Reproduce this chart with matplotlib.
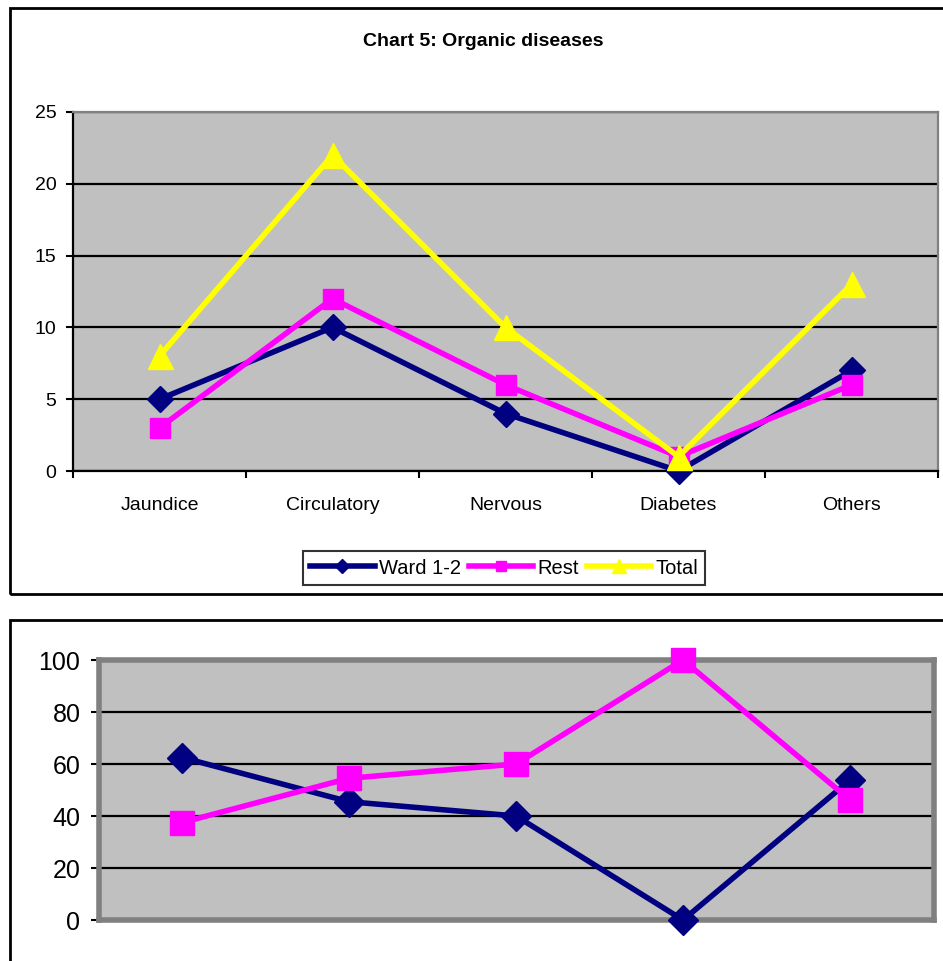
import matplotlib
matplotlib.use('Agg')
import matplotlib.pyplot as plt
from matplotlib.patches import Rectangle
import numpy as np

plt.rcParams['font.family'] = ['Liberation Sans', 'DejaVu Sans']

categories = ['Jaundice', 'Circulatory', 'Nervous', 'Diabetes', 'Others']
ward = [5, 10, 4, 0, 7]
rest = [3, 12, 6, 1, 6]
total = [8, 22, 10, 1, 13]

# share of each group in percent
ward_pct = [62.5, 45.5, 40, 0, 53.8]
rest_pct = [37.5, 54.5, 60, 100, 46.2]

NAVY = '#000080'
MAGENTA = '#FF00FF'
YELLOW = '#FFFF00'
GRAY = '#C0C0C0'

fig = plt.figure(figsize=(9.43, 9.61), dpi=100)

# outer chart frames
fig.patches.append(Rectangle((10 / 943, 1 - 594 / 961), 940 / 943, 586 / 961,
                             transform=fig.transFigure, fill=False,
                             edgecolor='black', linewidth=2))
fig.patches.append(Rectangle((10 / 943, -0.05), 940 / 943, 1 - 620 / 961 + 0.05,
                             transform=fig.transFigure, fill=False,
                             edgecolor='black', linewidth=2))

x = np.arange(len(categories))

# --- top chart ---
ax = fig.add_axes([73 / 943, 1 - 471 / 961, 865 / 943, 359 / 961])
ax.set_facecolor(GRAY)
ax.plot(x, ward, color=NAVY, lw=4, marker='D', ms=13, mec=NAVY, label='Ward 1-2', clip_on=False, zorder=3)
ax.plot(x, rest, color=MAGENTA, lw=4, marker='s', ms=14, mec=MAGENTA, label='Rest', clip_on=False, zorder=4)
ax.plot(x, total, color=YELLOW, lw=4, marker='^', ms=18, mec=YELLOW, label='Total', clip_on=False, zorder=5)
ax.set_xlim(-0.5, len(categories) - 0.5)
ax.set_ylim(0, 25)
ax.set_yticks(range(0, 26, 5))
ax.set_xticks(np.arange(-0.5, len(categories)), labels=[])
ax.set_xticks(x, labels=categories, minor=True)
ax.tick_params(axis='x', which='major', length=5, width=1.5, direction='out')
ax.tick_params(axis='x', which='minor', length=0, pad=19, labelsize=14)
ax.tick_params(axis='y', length=5, width=1.5, direction='out', pad=7, labelsize=14)
ax.yaxis.grid(True, color='black', lw=1.6)
ax.set_axisbelow(True)
for side in ['left', 'bottom']:
    ax.spines[side].set_linewidth(1.6)
    ax.spines[side].set_color('black')
for side in ['top', 'right']:
    ax.spines[side].set_linewidth(1.6)
    ax.spines[side].set_color('#808080')

fig.text(483 / 943, 1 - 42 / 961, 'Chart 5: Organic diseases', ha='center', va='center',
         fontsize=14, fontweight='bold')

leg = fig.legend(loc='center', bbox_to_anchor=(504 / 943, 1 - 568 / 961), ncol=3,
                 fontsize=14.5, frameon=True, fancybox=False, handlelength=3.2,
                 handletextpad=0.2, columnspacing=0.4, borderpad=0.35, markerscale=0.55)
leg.get_frame().set_edgecolor('black')
leg.get_frame().set_linewidth(1.5)

# --- bottom chart ---
ax2 = fig.add_axes([98.5 / 943, 1 - 920 / 961, 835 / 943, 260 / 961])
ax2.set_facecolor(GRAY)
ax2.plot(x, ward_pct, color=NAVY, lw=4, marker='D', ms=15, mec=NAVY, clip_on=False, zorder=3)
ax2.plot(x, rest_pct, color=MAGENTA, lw=4, marker='s', ms=17, mec=MAGENTA, clip_on=False, zorder=4)
ax2.set_xlim(-0.5, len(categories) - 0.5)
ax2.set_ylim(0, 100)
ax2.set_yticks(range(0, 101, 20))
ax2.set_xticks([])
ax2.tick_params(axis='y', length=6, width=1.5, direction='out', pad=7, labelsize=18)
ax2.yaxis.grid(True, color='black', lw=1.6)
ax2.set_axisbelow(True)
for side in ax2.spines:
    ax2.spines[side].set_linewidth(4)
    ax2.spines[side].set_color('#808080')

fig.savefig('out.png', dpi=100)
